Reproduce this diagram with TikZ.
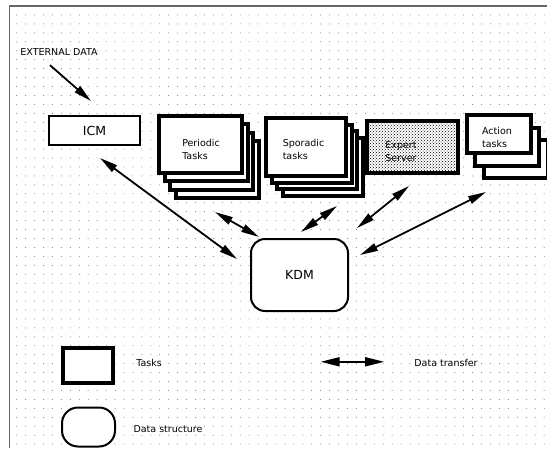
\documentclass[tikz,border=0pt]{standalone}
\usepackage{fontspec}
\setmainfont{DejaVu Sans}
\usetikzlibrary{arrows.meta,patterns}
\tikzset{
	>={Triangle[length=18pt,width=8pt]},
	taskbox/.style={draw, line width=4pt, fill=white, outer sep=0pt, inner sep=0pt},
	thinbox/.style={draw, line width=2pt, fill=white, outer sep=0pt, inner sep=0pt},
	databox/.style={draw, line width=2pt, fill=white, rounded corners=14pt, outer sep=0pt, inner sep=0pt},
	flow/.style={line width=1.8pt},
	boxtext/.style={align=left, inner sep=0pt, font=\fontsize{9.5}{13}\selectfont},
	smalltext/.style={inner sep=0pt, font=\fontsize{9.5}{12}\selectfont},
	bigtext/.style={font=\fontsize{12.5}{15}\selectfont}
}

\begin{document}
\begin{tikzpicture}[x=1pt,y=-1pt]
		\useasboundingbox (0,0) rectangle (547,448);
		\fill[white] (0,0) rectangle (547,448);

		\foreach \i in {0,...,59}
		\foreach \j in {0,...,48}
		\fill[black!55] (16.7+\i*8.94,15+\j*8.94) circle (0.5pt);

		\draw[black!60, line width=1.4pt] (9.5,448) -- (9.5,6) -- (547,6);

		\node[smalltext] (ext) at (59,52) {EXTERNAL DATA};
		\node[thinbox, bigtext, minimum width=91pt, minimum height=29pt] (icm) at (94.5,130.5) {ICM};

		\foreach \k in {3,2,1}
		\node[taskbox, minimum width=83pt, minimum height=57pt] (per-\k) at (200.5+\k*5.5,144.5+\k*8.3) {};
		\node[taskbox, minimum width=83pt, minimum height=57pt,
			label={[boxtext, shift={(0.5,4.5)}]center:{Periodic\\Tasks}}] (per) at (200.5,144.5) {};

		\foreach \k in {3,2,1}
		\node[taskbox, minimum width=80pt, minimum height=58pt] (spo-\k) at (306+\k*5.5,147+\k*6.5) {};
		\node[taskbox, minimum width=80pt, minimum height=58pt,
			label={[boxtext, shift={(-2.5,2.5)}]center:{Sporadic\\tasks}}] (spo) at (306,147) {};

		\node[taskbox, minimum width=91pt, minimum height=52pt, postaction={pattern=crosshatch dots},
			label={[boxtext, shift={(-11.5,4.5)}]center:{Expert\\Server}}] (exp) at (412.5,147) {};

		\foreach \k in {2,1}
		\node[taskbox, minimum width=64pt, minimum height=38pt] (act-\k) at (499+\k*8.3,134+\k*12.5) {};
		\node[taskbox, minimum width=64pt, minimum height=38pt,
			label={[boxtext, shift={(-2,3)}]center:{Action\\tasks}}] (act) at (499,134) {};

		\node[databox, bigtext, minimum width=97pt, minimum height=72pt] (kdm) at (299.5,275) {KDM};

		\draw[flow,->] ([shift={(-9,9.5)}]ext.south) -- ([shift={(-3.5,-15)}]icm.north);
		\draw[flow,<->] ([shift={(5.5,13)}]icm.south) -- ([shift={(-14,-16)}]kdm.west);
		\draw[flow,<->] ([shift={(14.5,39)}]per.south) -- ([shift={(8,-2)}]kdm.north west);
		\draw[flow,<->] ([shift={(1.5,-7)}]kdm.north) -- ([shift={(31,30)}]spo.south);
		\draw[flow,<->] ([shift={(9,-11)}]kdm.north east) -- ([shift={(-3.5,13)}]exp.south);
		\draw[flow,<->] ([shift={(12,-20)}]kdm.east) -- ([shift={(-13,39)}]act.south);

		\node[taskbox, minimum width=49.6pt, minimum height=34.5pt] (lg-task) at (87.8,365.7) {};
		\node[smalltext] (lg-task-txt) at (149,363) {Tasks};
		\coordinate (lg-l) at (320.6,361.8);
		\coordinate (lg-r) at (384.2,361.8);
		\draw[flow,<->,>={Triangle[length=19pt,width=9pt]}] (lg-l) -- (lg-r);
		\node[smalltext] (lg-flow-txt) at (446,362.5) {Data transfer};
		\node[databox, rounded corners=16pt, minimum width=53pt, minimum height=39pt] (lg-data) at (88.5,427) {};
		\node[smalltext] (lg-data-txt) at (168,429) {Data structure};

	\end{tikzpicture}
\end{document}
